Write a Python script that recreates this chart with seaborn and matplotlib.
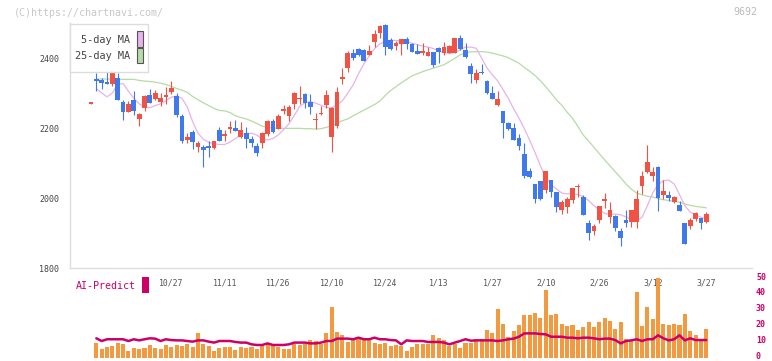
import numpy as np
import matplotlib
matplotlib.use("Agg")
import matplotlib.pyplot as plt
import matplotlib.transforms as mtransforms
from matplotlib.patches import Rectangle
import seaborn as sns

# ---------------- data ----------------
opens = [2270, 2340, 2337, 2332, 2327, 2342, 2274, 2247, 2280, 2227,
         2257, 2294, 2283, 2274, 2289, 2303, 2291, 2234, 2166, 2189,
         2147, 2147, 2149, 2143, 2194, 2178, 2197, 2200, 2175, 2185,
         2170, 2149, 2158, 2183, 2220, 2198, 2250, 2234, 2268, 2282,
         2297, 2274, 2222, 2239, 2266, 2175, 2205, 2340, 2372, 2413,
         2425, 2424, 2409, 2447, 2472, 2494, 2451, 2434, 2440, 2454,
         2439, 2420, 2413, 2407, 2418, 2428, 2415, 2415, 2415, 2456,
         2423, 2377, 2337, 2359, 2334, 2299, 2266, 2249, 2215, 2201,
         2172, 2126, 2078, 2040, 2049, 2023, 2052, 2018, 1966, 1975,
         1993, 2031, 2004, 1928, 1906, 1937, 1992, 1947, 1950, 1906,
         1937, 1931, 1931, 2034, 2075, 2064, 2090, 2009, 2009, 1988,
         1980, 1930, 1921, 1939, 1942, 1931]
highs = [2271, 2356, 2344, 2364, 2365, 2357, 2280, 2277, 2306, 2243,
         2294, 2311, 2309, 2299, 2317, 2335, 2299, 2240, 2186, 2194,
         2164, 2151, 2163, 2163, 2204, 2194, 2221, 2223, 2218, 2204,
         2177, 2158, 2190, 2222, 2225, 2239, 2266, 2266, 2304, 2320,
         2300, 2297, 2242, 2263, 2309, 2260, 2318, 2371, 2420, 2426,
         2428, 2425, 2437, 2480, 2494, 2497, 2456, 2450, 2455, 2461,
         2444, 2440, 2444, 2432, 2418, 2431, 2446, 2436, 2456, 2466,
         2442, 2387, 2369, 2382, 2337, 2320, 2306, 2249, 2218, 2215,
         2182, 2156, 2087, 2040, 2049, 2077, 2052, 2018, 1994, 2004,
         2030, 2040, 2009, 1937, 1925, 1977, 2015, 1990, 1952, 1915,
         1966, 1966, 2023, 2077, 2151, 2088, 2092, 2051, 2020, 2007,
         1991, 1930, 1942, 1961, 1942, 1961]
lows = [2270, 2307, 2311, 2327, 2321, 2280, 2223, 2247, 2237, 2206,
        2249, 2271, 2280, 2263, 2269, 2297, 2232, 2158, 2158, 2141,
        2132, 2089, 2118, 2140, 2163, 2163, 2187, 2192, 2172, 2144,
        2147, 2120, 2144, 2178, 2185, 2198, 2239, 2220, 2253, 2269,
        2258, 2240, 2197, 2237, 2256, 2132, 2200, 2326, 2361, 2394,
        2405, 2392, 2409, 2432, 2456, 2410, 2423, 2423, 2410, 2425,
        2417, 2411, 2409, 2406, 2375, 2385, 2409, 2413, 2413, 2423,
        2401, 2328, 2328, 2353, 2297, 2283, 2263, 2172, 2194, 2166,
        2137, 2056, 2056, 1985, 1993, 2015, 2004, 1961, 1954, 1958,
        1985, 2004, 1952, 1880, 1894, 1928, 1971, 1928, 1907, 1864,
        1918, 1918, 1915, 2011, 2071, 2050, 1964, 1997, 1991, 1985,
        1964, 1868, 1912, 1935, 1911, 1928]
closes = [2271, 2335, 2330, 2327, 2362, 2280, 2247, 2269, 2249, 2240,
          2291, 2271, 2300, 2286, 2294, 2315, 2237, 2164, 2175, 2161,
          2156, 2137, 2143, 2163, 2163, 2180, 2203, 2192, 2194, 2168,
          2158, 2130, 2185, 2220, 2190, 2234, 2253, 2259, 2301, 2286,
          2272, 2261, 2226, 2242, 2294, 2258, 2304, 2346, 2415, 2401,
          2410, 2392, 2420, 2470, 2492, 2432, 2425, 2444, 2453, 2439,
          2417, 2411, 2420, 2416, 2380, 2416, 2432, 2434, 2456, 2426,
          2404, 2353, 2358, 2356, 2299, 2283, 2283, 2215, 2197, 2166,
          2150, 2064, 2061, 1997, 1997, 2077, 2018, 1973, 1990, 1996,
          2030, 2035, 1952, 1899, 1920, 1977, 1997, 1966, 1915, 1887,
          1930, 1966, 1997, 2063, 2102, 2075, 2001, 2020, 2001, 2004,
          1964, 1868, 1937, 1958, 1930, 1954]

# moving averages, volume and AI-predict start at the second candle
ma5 = [2312, 2300, 2289, 2300, 2325, 2327, 2305, 2285, 2269, 2260,
       2258, 2264, 2269, 2278, 2288, 2291, 2285, 2260, 2218, 2185,
       2168, 2159, 2155, 2153, 2153, 2160, 2170, 2180, 2184, 2185,
       2180, 2168, 2166, 2170, 2180, 2195, 2212, 2236, 2262, 2272,
       2275, 2271, 2265, 2259, 2258, 2265, 2278, 2300, 2323, 2355,
       2383, 2406, 2427, 2440, 2447, 2451, 2450, 2449, 2447, 2442,
       2438, 2434, 2431, 2427, 2420, 2415, 2413, 2416, 2423, 2431,
       2431, 2428, 2400, 2372, 2352, 2335, 2310, 2285, 2255, 2228,
       2198, 2165, 2130, 2092, 2058, 2038, 2026, 2014, 2012, 2011,
       2010, 2004, 1993, 1978, 1966, 1956, 1953, 1954, 1952, 1946,
       1938, 1935, 1945, 1978, 2015, 2038, 2050, 2051, 2040, 2010,
       1978, 1960, 1952, 1945, 1940]
ma25 = [2340, 2340, 2340, 2339, 2339, 2339, 2339, 2339, 2336, 2334,
        2333, 2331, 2328, 2324, 2319, 2313, 2308, 2302, 2290, 2281,
        2272, 2264, 2256, 2250, 2249, 2244, 2235, 2230, 2226, 2220,
        2213, 2205, 2202, 2200, 2199, 2199, 2199, 2199, 2199, 2198,
        2198, 2197, 2198, 2202, 2206, 2214, 2221, 2226, 2235, 2243,
        2251, 2259, 2267, 2277, 2293, 2307, 2318, 2329, 2339, 2349,
        2355, 2361, 2366, 2371, 2376, 2381, 2390, 2399, 2409, 2414,
        2418, 2418, 2418, 2417, 2414, 2410, 2406, 2401, 2393, 2385,
        2373, 2362, 2350, 2335, 2318, 2300, 2280, 2265, 2245, 2228,
        2205, 2180, 2163, 2145, 2127, 2109, 2092, 2075, 2058, 2040,
        2025, 2014, 2009, 2005, 2003, 1998, 1995, 1993, 1990, 1988,
        1983, 1979, 1976, 1974, 1972]
volume = [9.2, 5.5, 6.7, 7.4, 9.2, 8.6, 4.4, 6.1, 5.7, 6.1,
          8.0, 6.1, 5.7, 8.0, 6.7, 8.0, 7.4, 8.8, 6.7, 15.5,
          8.6, 7.4, 4.4, 6.1, 6.7, 6.7, 4.8, 6.7, 6.1, 6.7,
          5.5, 8.0, 8.8, 8.0, 6.7, 5.5, 5.5, 8.6, 8.0, 8.6,
          11.1, 10.7, 8.6, 15.5, 32.1, 16.4, 14.3, 10.1, 11.8, 13.0,
          11.3, 11.3, 9.7, 8.6, 9.7, 7.4, 8.0, 7.6, 4.2, 6.7,
          8.6, 8.6, 8.6, 14.3, 12.4, 11.1, 7.4, 8.6, 6.1, 9.2,
          9.7, 11.8, 11.8, 17.4, 15.5, 30.7, 21.2, 13.0, 17.0, 20.6,
          26.9, 26.9, 28.2, 25.0, 42.6, 26.9, 27.5, 21.2, 20.0, 20.6,
          17.4, 19.3, 22.5, 19.3, 22.5, 25.0, 23.1, 18.1, 22.5, 11.8,
          11.1, 41.4, 20.0, 31.9, 24.4, 50.2, 21.2, 20.6, 21.2, 20.6,
          27.5, 16.8, 14.3, 11.8, 18.1]
ai_predict = [12.4, 10.7, 11.8, 11.8, 11.8, 11.8, 10.7, 11.8, 11.1, 11.8,
              12.4, 12.2, 10.7, 11.8, 11.3, 11.1, 11.1, 10.7, 10.3, 11.1,
              11.1, 10.3, 9.7, 10.7, 10.7, 10.7, 10.1, 9.7, 9.7, 8.6,
              8.2, 8.2, 9.2, 8.2, 8.2, 8.2, 8.6, 9.7, 9.7, 9.7,
              9.2, 9.2, 9.7, 10.7, 10.7, 12.2, 12.2, 12.2, 11.8, 12.8,
              11.8, 11.8, 12.8, 11.8, 11.8, 11.3, 11.1, 8.6, 11.1, 10.7,
              10.7, 10.7, 10.1, 10.1, 10.1, 9.7, 8.6, 9.7, 10.7, 11.8,
              10.9, 11.1, 11.1, 11.1, 11.1, 10.7, 11.1, 11.8, 12.2, 13.4,
              15.5, 15.5, 15.5, 15.1, 14.9, 13.4, 13.4, 13.4, 12.8, 12.8,
              12.4, 12.8, 12.8, 12.4, 11.8, 12.2, 12.2, 11.3, 9.2, 10.7,
              11.1, 11.8, 10.7, 11.8, 11.8, 14.3, 12.4, 11.1, 11.8, 14.3,
              11.1, 12.4, 11.3, 11.3, 11.3]
date_labels = ["10/27", "11/11", "11/26", "12/10", "12/24", "1/13",
               "1/27", "2/10", "2/26", "3/12", "3/27"]
date_label_idx = [15, 25, 35, 45, 55, 65, 75, 85, 95, 105, 115]
price_ticks = [1800, 2000, 2200, 2400]
vol_ticks = [0, 10, 20, 30, 40, 50]

# ---------------- style ----------------
RED = "#f05343"
BLUE = "#3f79ec"
PINK = "#e8b2ea"
GREEN = "#b6dba6"
ORANGE = "#f39a40"
CRIMSON = "#cc0066"
GRID = "#dddddd"

sns.set_style("white")
plt.rcParams["font.family"] = ["DejaVu Sans Mono", "DejaVu Sans"]

W, H = 772, 361
fig = plt.figure(figsize=(W / 100, H / 100), dpi=100)


def rect(x0, y0, x1, y1):
    return [x0 / W, 1 - y1 / H, (x1 - x0) / W, (y1 - y0) / H]


def fx(x):
    return x / W


def fy(y):
    return 1 - y / H


ax = fig.add_axes(rect(70, 23, 752, 268))
axv = fig.add_axes(rect(70, 276, 752, 358))

n = len(opens)
idx = np.arange(n)
o = np.array(opens, float)
c = np.array(closes, float)
colors = np.where(c >= o, RED, BLUE)
sub_idx = idx[1:]

xlim = ((70 - 91) / 5.35, (752 - 91) / 5.35)

# moving averages (below candles)
sns.lineplot(x=sub_idx, y=ma25, ax=ax, color=GREEN, linewidth=0.9, zorder=2, legend=False)
sns.lineplot(x=sub_idx, y=ma5, ax=ax, color=PINK, linewidth=0.9, zorder=2, legend=False)

# candles
ax.vlines(idx, lows, highs, colors=colors, linewidth=0.8, zorder=3)
body = np.maximum(np.abs(c - o), 4)
ax.bar(idx, body, bottom=np.minimum(o, c), width=0.88, color=colors,
       linewidth=0, zorder=4)

ax.set_xlim(*xlim)
ax.set_ylim(1800, 2500)
ax.set_yticks(price_ticks)
ax.set_yticklabels([str(t) for t in price_ticks])
ax.set_xticks(np.linspace(xlim[0], xlim[1], 12))
ax.set_xticklabels([])
ax.set_xlabel("")
ax.set_ylabel("")
for s in ["top", "right"]:
    ax.spines[s].set_visible(False)
for s in ["left", "bottom"]:
    ax.spines[s].set_color(GRID)
    ax.spines[s].set_linewidth(1.0)
ax.tick_params(axis="y", direction="out", length=3.6, width=0.9, color=GRID,
               labelsize=6, labelcolor="#444444", pad=4)
ax.tick_params(axis="x", direction="in", length=3.6, width=0.9, color=GRID,
               labelbottom=False)
ax.grid(False)

# date labels between panels
tr = mtransforms.blended_transform_factory(ax.transData, fig.transFigure)
for lab, i in zip(date_labels, date_label_idx):
    ax.text(i, fy(283), lab, transform=tr, ha="center", va="center",
            fontsize=5.9, color="#555555", clip_on=False)

# volume panel
axv.patch.set_visible(False)
axv.bar(sub_idx, volume, width=0.76, color=ORANGE, linewidth=0, zorder=2)
sns.lineplot(x=sub_idx, y=ai_predict, ax=axv, color=CRIMSON, linewidth=1.8,
             zorder=3, legend=False)
axv.set_xlim(*xlim)
axv.set_ylim(0, (358 - 276) / 1.588)
axv.set_yticks([])
axv.set_xticks([])
axv.set_xlabel("")
axv.set_ylabel("")
for s in axv.spines.values():
    s.set_visible(False)
axv.grid(False)
# right-hand volume scale labels, nudged up 1.5 px so "0" stays inside
trv = mtransforms.blended_transform_factory(fig.transFigure, axv.transData)
for t in vol_ticks:
    axv.text(fx(756), t + 1.6 / 1.588, str(t), transform=trv, ha="left",
             va="center", fontsize=6, color=CRIMSON, fontweight="bold",
             clip_on=False)

# MA legend box
fig.add_artist(Rectangle((fx(70), fy(72)), (148 - 70) / W, (72 - 24) / H,
                         transform=fig.transFigure, facecolor="white",
                         edgecolor=GRID, linewidth=1.0, zorder=5))
fig.text(fx(130), fy(40), "5-day MA", ha="right", va="center", fontsize=7.4,
         color="#444444", zorder=6)
fig.text(fx(130), fy(56), "25-day MA", ha="right", va="center", fontsize=7.4,
         color="#444444", zorder=6)
fig.add_artist(Rectangle((fx(136.5), fy(46.5)), 6 / W, 15 / H,
                         transform=fig.transFigure, facecolor=PINK,
                         edgecolor="#555555", linewidth=0.8, zorder=6))
fig.add_artist(Rectangle((fx(136.5), fy(63)), 6 / W, 15 / H,
                         transform=fig.transFigure, facecolor=GREEN,
                         edgecolor="#555555", linewidth=0.8, zorder=6))

# AI-Predict legend
fig.text(fx(76), fy(286), "AI-Predict", ha="left", va="center", fontsize=7.2,
         color=CRIMSON)
fig.add_artist(Rectangle((fx(142), fy(293)), 7 / W, 16 / H,
                         transform=fig.transFigure, facecolor=CRIMSON,
                         edgecolor="none", zorder=6))

# watermark texts
fig.text(fx(14), fy(12.5), "(C)https://chartnavi.com/", ha="left", va="center",
         fontsize=7.2, color="#c8c8c8")
fig.text(fx(757), fy(12), "9692", ha="right", va="center", fontsize=7.2,
         color="#bbbbbb")

fig.savefig("out.png", dpi=100, facecolor="white")
